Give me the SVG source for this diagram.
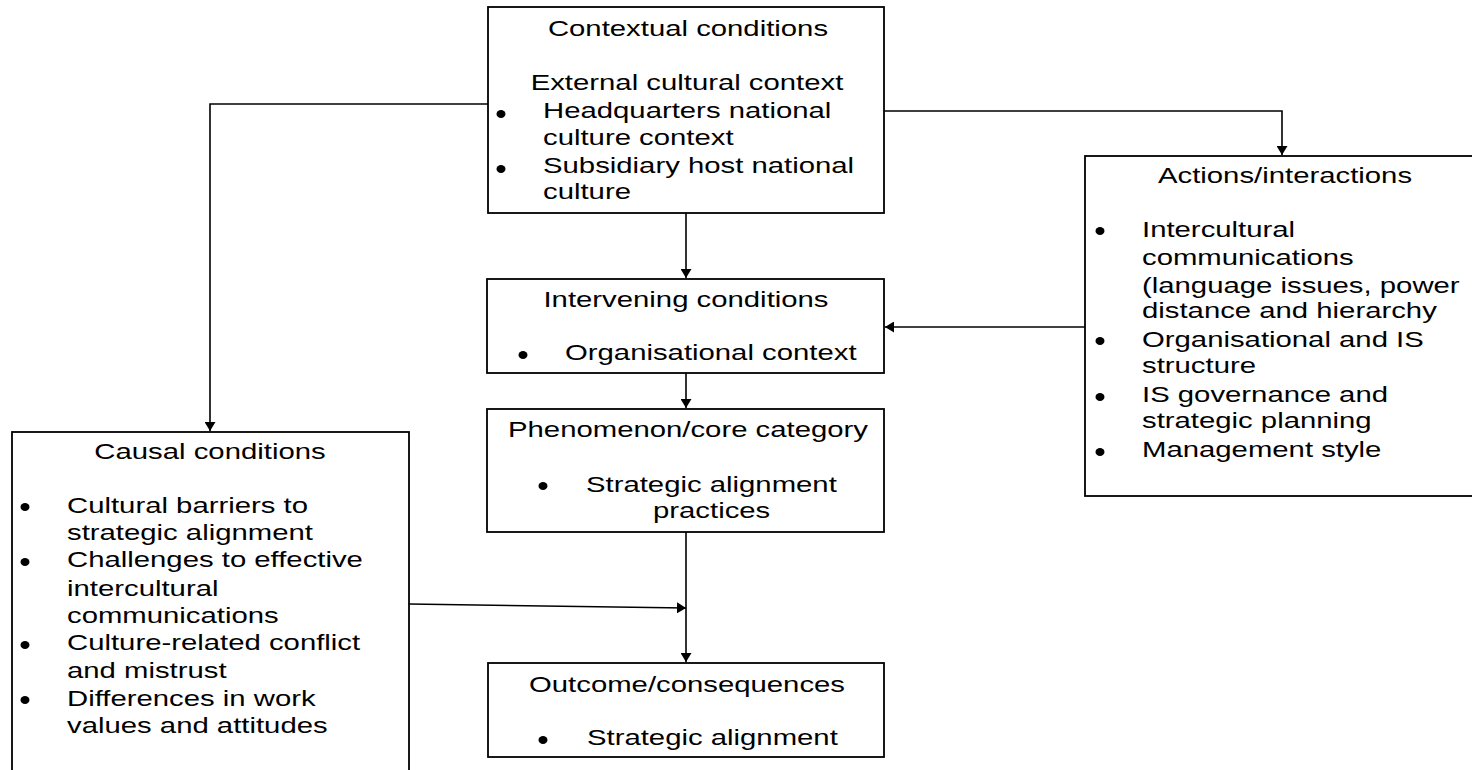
<svg xmlns="http://www.w3.org/2000/svg" width="1472" height="770" viewBox="0 0 1472 770">
<style>
.box{fill:#fff;stroke:#000;stroke-width:1.8}
.t{font-family:"Liberation Sans",Arial,sans-serif;font-size:22px;fill:#000}
.c{text-anchor:middle}
.b{fill:#000}
.ln{fill:none;stroke:#000;stroke-width:1.6}
</style>
<defs>
<marker id="ah" markerUnits="userSpaceOnUse" markerWidth="10" markerHeight="11" refX="9" refY="5.5" orient="auto">
<path d="M0,0 L9,5.5 L0,11 z" fill="#000"/>
</marker>
</defs>
<rect width="1472" height="770" fill="#fff"/>
<g id="connectors">
<path class="ln" d="M488,104 H210 V431" marker-end="url(#ah)"/>
<path class="ln" d="M884,111 H1282 V155" marker-end="url(#ah)"/>
<path class="ln" d="M686,213 V278" marker-end="url(#ah)"/>
<path class="ln" d="M1085,327 H885" marker-end="url(#ah)"/>
<path class="ln" d="M686,373 V408" marker-end="url(#ah)"/>
<path class="ln" d="M686,532 V662" marker-end="url(#ah)"/>
<path class="ln" d="M409,604 L686,608" marker-end="url(#ah)"/>
</g>
<g id="contextual">
<rect class="box" x="488" y="7" width="396" height="206"/>
<text class="t c" transform="matrix(1.332 0 0 1 688 36)">Contextual conditions</text>
<text class="t c" transform="matrix(1.332 0 0 1 687 90)">External cultural context</text>
<ellipse class="b" cx="501" cy="114" rx="4.5" ry="4"/>
<text class="t" transform="matrix(1.332 0 0 1 543 118)">Headquarters national</text>
<text class="t" transform="matrix(1.332 0 0 1 543 145)">culture context</text>
<ellipse class="b" cx="501" cy="169" rx="4.5" ry="4"/>
<text class="t" transform="matrix(1.332 0 0 1 543 173)">Subsidiary host national</text>
<text class="t" transform="matrix(1.332 0 0 1 543 199)">culture</text>
</g>
<g id="actions">
<rect class="box" x="1085" y="156" width="400" height="340"/>
<text class="t c" transform="matrix(1.332 0 0 1 1285 183)">Actions/interactions</text>
<ellipse class="b" cx="1100" cy="231" rx="4.5" ry="4"/>
<text class="t" transform="matrix(1.332 0 0 1 1142 237)">Intercultural</text>
<text class="t" transform="matrix(1.332 0 0 1 1142 265)">communications</text>
<text class="t" transform="matrix(1.332 0 0 1 1142 293)">(language issues, power</text>
<text class="t" transform="matrix(1.332 0 0 1 1142 318)">distance and hierarchy</text>
<ellipse class="b" cx="1100" cy="341" rx="4.5" ry="4"/>
<text class="t" transform="matrix(1.332 0 0 1 1142 347)">Organisational and IS</text>
<text class="t" transform="matrix(1.332 0 0 1 1142 373)">structure</text>
<ellipse class="b" cx="1100" cy="397" rx="4.5" ry="4"/>
<text class="t" transform="matrix(1.332 0 0 1 1142 402)">IS governance and</text>
<text class="t" transform="matrix(1.332 0 0 1 1142 428)">strategic planning</text>
<ellipse class="b" cx="1100" cy="452" rx="4.5" ry="4"/>
<text class="t" transform="matrix(1.332 0 0 1 1142 457)">Management style</text>
</g>
<g id="intervening">
<rect class="box" x="487" y="279" width="397" height="94"/>
<text class="t c" transform="matrix(1.332 0 0 1 686 307)">Intervening conditions</text>
<ellipse class="b" cx="523" cy="355" rx="4.5" ry="4"/>
<text class="t" transform="matrix(1.332 0 0 1 565 360)">Organisational context</text>
</g>
<g id="phenomenon">
<rect class="box" x="487" y="409" width="397" height="123"/>
<text class="t c" transform="matrix(1.332 0 0 1 688 437)">Phenomenon/core category</text>
<ellipse class="b" cx="543" cy="486" rx="4.5" ry="4"/>
<text class="t" transform="matrix(1.332 0 0 1 586 492)">Strategic alignment</text>
<text class="t" transform="matrix(1.332 0 0 1 653 518)">practices</text>
</g>
<g id="outcome">
<rect class="box" x="488" y="663" width="396" height="94"/>
<text class="t c" transform="matrix(1.332 0 0 1 687 692)">Outcome/consequences</text>
<ellipse class="b" cx="543" cy="740" rx="4.5" ry="4"/>
<text class="t" transform="matrix(1.332 0 0 1 587 745)">Strategic alignment</text>
</g>
<g id="causal">
<rect class="box" x="12" y="432" width="397" height="360"/>
<text class="t c" transform="matrix(1.332 0 0 1 210 459)">Causal conditions</text>
<ellipse class="b" cx="25" cy="507" rx="4.5" ry="4"/>
<text class="t" transform="matrix(1.332 0 0 1 67 513)">Cultural barriers to</text>
<text class="t" transform="matrix(1.332 0 0 1 67 540)">strategic alignment</text>
<ellipse class="b" cx="25" cy="562" rx="4.5" ry="4"/>
<text class="t" transform="matrix(1.332 0 0 1 67 567)">Challenges to effective</text>
<text class="t" transform="matrix(1.332 0 0 1 67 596)">intercultural</text>
<text class="t" transform="matrix(1.332 0 0 1 67 623)">communications</text>
<ellipse class="b" cx="25" cy="645" rx="4.5" ry="4"/>
<text class="t" transform="matrix(1.332 0 0 1 67 650)">Culture-related conflict</text>
<text class="t" transform="matrix(1.332 0 0 1 67 678)">and mistrust</text>
<ellipse class="b" cx="25" cy="700" rx="4.5" ry="4"/>
<text class="t" transform="matrix(1.332 0 0 1 67 706)">Differences in work</text>
<text class="t" transform="matrix(1.332 0 0 1 67 733)">values and attitudes</text>
</g>
</svg>
